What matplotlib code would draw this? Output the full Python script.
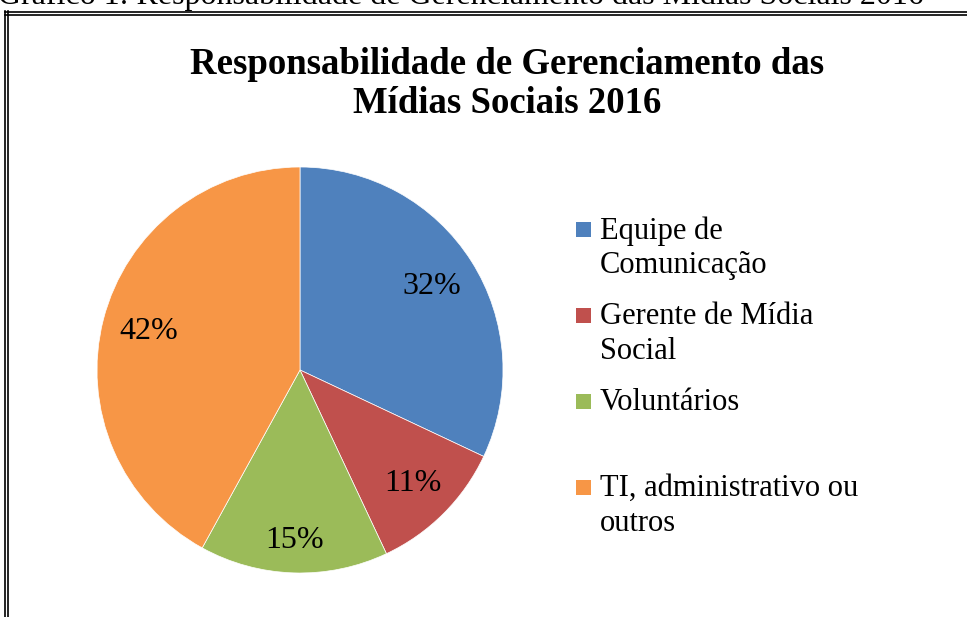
import numpy as np
import matplotlib.pyplot as plt
from matplotlib.lines import Line2D
from matplotlib.patches import Rectangle

categorias = ["Equipe de\nComunicação", "Gerente de Mídia\nSocial", "Voluntários", "TI, administrativo ou\noutros"]
percentuais = [32, 11, 15, 42]
cores = ["#4F81BD", "#C0504D", "#9BBB59", "#F79646"]
titulo = "Responsabilidade de Gerenciamento das\nMídias Sociais 2016"
legenda_doc = "Gráfico 1: Responsabilidade de Gerenciamento das Mídias Sociais 2016"

W, H = 967, 617
plt.rcParams['font.family'] = ['Liberation Serif', 'DejaVu Serif']

fig = plt.figure(figsize=(W / 100, H / 100), dpi=100)

def fx(px):
    return px / W

def fy(py):
    return 1 - py / H

# document caption, cut by the top of the image
fig.text(fx(-2), fy(4), legenda_doc, fontsize=23, ha='left', va='baseline', color='black')

# double frame around the chart
for x in (5, 8):
    fig.add_artist(Line2D([fx(x), fx(x)], [fy(11), 0], color='black', lw=1.2))
for y in (12, 15):
    fig.add_artist(Line2D([fx(5), 1], [fy(y), fy(y)], color='black', lw=1.2))

# title
fig.text(fx(507), fy(84), titulo, fontsize=26.5, fontweight='bold', ha='center', va='center',
         linespacing=1.15)

# pie
cx, cy, r = 300, 370, 203
ax = fig.add_axes([fx(cx - r), fy(cy + r), 2 * r / W, 2 * r / H])
wedges, _ = ax.pie(percentuais, colors=cores, startangle=90, counterclock=False,
                   wedgeprops=dict(linewidth=0.5, edgecolor='white'))
distancias = [0.77, 0.79, 0.84, 0.77]
for w, p, d in zip(wedges, percentuais, distancias):
    ang = np.deg2rad((w.theta1 + w.theta2) / 2)
    ax.text(d * np.cos(ang), d * np.sin(ang), f"{p}%", fontsize=23, ha='center', va='center')
ax.set_xlim(-1, 1)
ax.set_ylim(-1, 1)
ax.set_aspect('auto')
ax.axis('off')

# legend
topo = 222
passo = 86
for i, (nome, cor) in enumerate(zip(categorias, cores)):
    y0 = topo + i * passo
    fig.add_artist(Rectangle((fx(576), fy(y0 + 15)), 15 / W, 15 / H, transform=fig.transFigure,
                             facecolor=cor, edgecolor='none'))
    fig.text(fx(600), fy(y0 - 6), nome, fontsize=22, ha='left', va='top', linespacing=1.27)

fig.savefig('out.png', dpi=100)
